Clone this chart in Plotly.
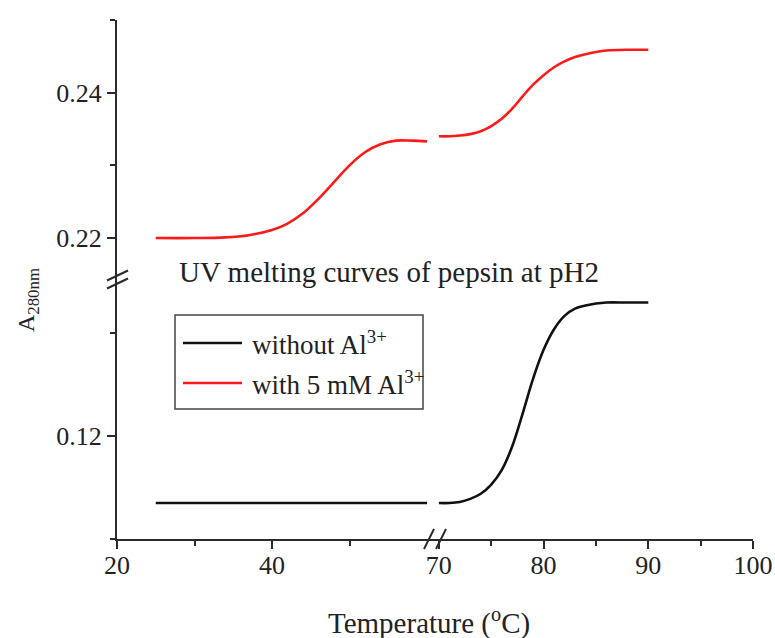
import plotly.graph_objects as go

# UV melting of pepsin at pH 2: absorbance at 280 nm vs temperature.
# Each series is split into the part below and the part above the x-axis break.
temp_left = [25, 30, 35, 40, 45, 50, 55, 60]
abs_no_al_left = [0.1135, 0.1135, 0.1135, 0.1135, 0.1135, 0.1135, 0.1135, 0.1135]

temp_right = [70, 71, 72, 73, 74, 75, 76, 77, 78, 79, 80, 81, 82, 83, 84, 85, 86, 88, 90]
abs_no_al_right = [0.1135, 0.1135, 0.1136, 0.1139, 0.1144, 0.1153, 0.1167, 0.1190, 0.1222,
                   0.1256, 0.1284, 0.1304, 0.1317, 0.1324, 0.1327, 0.1329, 0.1330, 0.1330, 0.1330]

temp_al_left = [25, 30, 34, 37, 40, 42, 44, 46, 48, 50, 52, 54, 56, 58, 60]
abs_al_left = [0.2200, 0.2200, 0.2201, 0.2204, 0.2211, 0.2220, 0.2234, 0.2254, 0.2277,
               0.2300, 0.2318, 0.2329, 0.2334, 0.2334, 0.2333]

abs_al_right = [0.2340, 0.2340, 0.2341, 0.2343, 0.2347, 0.2354, 0.2364, 0.2378, 0.2395,
                0.2411, 0.2424, 0.2435, 0.2443, 0.2449, 0.2453, 0.2456, 0.2458, 0.2459, 0.2459]

series_names = ["without Al<sup>3+</sup>", "with 5 mM Al<sup>3+</sup>"]
series_colors = ["#111111", "#ff1a1a"]

x_left_ticks = [20, 40]
x_left_minor = [30, 50]
x_right_ticks = [70, 80, 90, 100]
x_right_minor = [75, 85, 95]
y_low_ticks = [0.12]
y_low_minor = [0.11, 0.13]
y_high_ticks = [0.22, 0.24]
y_high_minor = [0.23, 0.25]

W, H = 775, 638
ML, MR, MT, MB = 117, 22, 20, 99
PW, PH = W - ML - MR, H - MT - MB


def px(x):
    return (x - ML) / PW


def py(y):
    return (H - MB - y) / PH


FONT = "Liberation Serif"
AX = "#2a2a2a"
TXT = "#222222"

fig = go.Figure()
fig.add_trace(go.Scatter(x=temp_left, y=abs_no_al_left, xaxis="x", yaxis="y", mode="lines",
                         line=dict(color=series_colors[0], width=2.6), showlegend=False))
fig.add_trace(go.Scatter(x=temp_right, y=abs_no_al_right, xaxis="x2", yaxis="y", mode="lines",
                         line=dict(color=series_colors[0], width=2.6, shape="spline"), showlegend=False))
fig.add_trace(go.Scatter(x=temp_al_left, y=abs_al_left, xaxis="x", yaxis="y2", mode="lines",
                         line=dict(color=series_colors[1], width=2.6, shape="spline"), showlegend=False))
fig.add_trace(go.Scatter(x=temp_right, y=abs_al_right, xaxis="x2", yaxis="y2", mode="lines",
                         line=dict(color=series_colors[1], width=2.6, shape="spline"), showlegend=False))

axis_common = dict(showline=True, linecolor=AX, linewidth=2, showgrid=False, zeroline=False,
                   ticks="outside", ticklen=8, tickwidth=2, tickcolor=AX, automargin=False,
                   tickfont=dict(family=FONT, size=26, color=TXT))
minor_common = dict(ticks="outside", ticklen=5, tickwidth=2, tickcolor=AX)

fig.update_layout(
    width=W, height=H,
    margin=dict(l=ML, r=MR, t=MT, b=MB, autoexpand=False),
    paper_bgcolor="white", plot_bgcolor="white",
    font=dict(family=FONT, color=TXT),
    showlegend=False,
    xaxis=dict(domain=[0, 0.5], range=[20, 61.03], anchor="y", tickvals=x_left_ticks,
               ticklabelstandoff=-6,
               minor=dict(tickvals=x_left_minor, **minor_common), **axis_common),
    xaxis2=dict(domain=[0.5, 1], range=[69.63, 100], anchor="y", tickvals=x_right_ticks,
                ticklabelstandoff=-6,
                minor=dict(tickvals=x_right_minor, **minor_common), **axis_common),
    yaxis=dict(domain=[0, 0.5], range=[0.11, 0.13524], anchor="x", tickvals=y_low_ticks,
               tickformat=".2f", minor=dict(tickvals=y_low_minor, **minor_common), **axis_common),
    yaxis2=dict(domain=[0.5, 1], range=[0.2143, 0.25], anchor="x", tickvals=y_high_ticks,
                tickformat=".2f", minor=dict(tickvals=y_high_minor, **minor_common), **axis_common),
)

shapes = []
# axis break marks "//"
for (a, b, c, d) in [(-10, -9, 11, 1), (-10, -1, 11, 9)]:
    shapes.append(dict(type="line", xref="paper", yref="paper", xsizemode="pixel", ysizemode="pixel",
                       xanchor=0, yanchor=0.5, x0=a, y0=b, x1=c, y1=d,
                       line=dict(color=AX, width=2)))
for (a, b, c, d) in [(-11, -10, -1, 10), (1, -10, 11, 10)]:
    shapes.append(dict(type="line", xref="paper", yref="paper", xsizemode="pixel", ysizemode="pixel",
                       xanchor=0.5, yanchor=0, x0=a, y0=b, x1=c, y1=d,
                       line=dict(color=AX, width=2)))

# legend box
shapes.append(dict(type="rect", xref="paper", yref="paper", x0=px(175), x1=px(423), y0=py(409), y1=py(315),
                   line=dict(color="#444444", width=1.5), fillcolor="white"))
annotations = []
for i, yy in enumerate([343, 383]):
    shapes.append(dict(type="line", xref="paper", yref="paper", x0=px(183), x1=px(242), y0=py(yy), y1=py(yy),
                       line=dict(color=series_colors[i], width=2.6)))
    annotations.append(dict(xref="paper", yref="paper", x=px(250), y=py(yy), xanchor="left", yanchor="middle",
                            text=series_names[i], showarrow=False,
                            font=dict(family=FONT, size=27, color=TXT)))

annotations.append(dict(xref="paper", yref="paper", x=px(177), y=py(272), xanchor="left", yanchor="middle",
                        text="UV melting curves of pepsin at pH2", showarrow=False,
                        font=dict(family=FONT, size=29, color=TXT)))
annotations.append(dict(xref="paper", yref="paper", x=px(429), y=py(621), xanchor="center", yanchor="middle",
                        text="Temperature (<sup>o</sup>C)", showarrow=False,
                        font=dict(family=FONT, size=29, color=TXT)))
annotations.append(dict(xref="paper", yref="paper", x=px(28), y=py(300), xanchor="center", yanchor="middle",
                        text="A<sub>280nm</sub>", textangle=-90, showarrow=False,
                        font=dict(family=FONT, size=24, color=TXT)))

fig.update_layout(shapes=shapes, annotations=annotations)
fig.write_html("out.html")
